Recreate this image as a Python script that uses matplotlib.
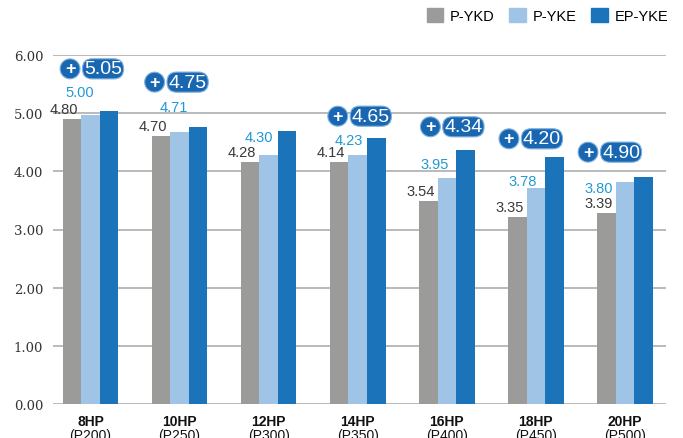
import numpy as np
import matplotlib.pyplot as plt
from matplotlib.patches import Patch

# categories
models = ['8HP', '10HP', '12HP', '14HP', '16HP', '18HP', '20HP']
codes = ['(P200)', '(P250)', '(P300)', '(P350)', '(P400)', '(P450)', '(P500)']

# bar heights as drawn
ykd = [4.90, 4.61, 4.16, 4.16, 3.49, 3.21, 3.28]
yke = [4.97, 4.68, 4.28, 4.28, 3.89, 3.71, 3.82]
epyke = [5.04, 4.76, 4.69, 4.57, 4.37, 4.25, 3.90]

# printed value labels
ykd_lbl = ['4.80', '4.70', '4.28', '4.14', '3.54', '3.35', '3.39']
yke_lbl = ['5.00', '4.71', '4.30', '4.23', '3.95', '3.78', '3.80']
ep_lbl = ['5.05', '4.75', '', '4.65', '4.34', '4.20', '4.90']

series_names = ['P-YKD', 'P-YKE', 'EP-YKE']
colors = ['#9b9b99', '#9fc4e6', '#1b74ba']
badge_col = '#1967b1'

# label placement (pixel offsets from bar tops)
yke_dx = [-10.5, -6, -9.5, -9, -12.5, -13, -26]
yke_dy = [23, 25, 18, 15, 14, 7, -6]
ep_dx = [-6, -10.5, 0, -5.5, -2, -12.5, -22.5]
ep_dy = [42, 45, 0, 22, 23, 18, 25]

fig = plt.figure(figsize=(6.83, 4.39), dpi=100)
ax = fig.add_axes([53 / 683, 34 / 439, 613 / 683, 349 / 439])

x = np.arange(len(models))
w = 0.208
ax.bar(x - w, ykd, w, color=colors[0], zorder=3)
ax.bar(x, yke, w, color=colors[1], zorder=3)
ax.bar(x + w, epyke, w, color=colors[2], zorder=3)

ax.set_xlim(-0.421, 6.46)
ax.set_ylim(0, 6)
ax.set_yticks(range(7))
ax.set_yticklabels([f'{v:.2f}' for v in range(7)])
ax.tick_params(axis='y', length=0, pad=7, labelsize=9.5, labelcolor='#333333',
               labelfontfamily='DejaVu Serif')
ax.set_xticks([])
for s in ax.spines.values():
    s.set_visible(False)
ax.grid(axis='y', color='#b4b4b4', lw=1.3, zorder=0)
ax.set_axisbelow(True)

sans = 'Liberation Sans'
for i in range(len(models)):
    ax.annotate(models[i], xy=(x[i], 0), xycoords=('data', 'axes fraction'),
                xytext=(0, -17), textcoords='offset pixels', ha='center', va='center',
                fontsize=10, fontweight='bold', family=sans, color='#111111')
    ax.annotate(codes[i], xy=(x[i], 0), xycoords=('data', 'axes fraction'),
                xytext=(0, -31), textcoords='offset pixels', ha='center', va='center',
                fontsize=10, family=sans, color='#111111')

    ax.annotate(ykd_lbl[i], xy=(x[i] - w, ykd[i]), xytext=(-8, 10),
                textcoords='offset pixels', ha='center', va='center',
                fontsize=10.5, family=sans, color='#3a3a3a', zorder=5)
    ax.annotate(yke_lbl[i], xy=(x[i], yke[i]), xytext=(yke_dx[i], yke_dy[i]),
                textcoords='offset pixels', ha='center', va='center',
                fontsize=10.5, family=sans, color='#2399d4', zorder=5)
    if ep_lbl[i]:
        ax.annotate(ep_lbl[i], xy=(x[i] + w, epyke[i]), xytext=(ep_dx[i], ep_dy[i]),
                    textcoords='offset pixels', ha='center', va='center',
                    fontsize=14, family=sans, color='white', zorder=6,
                    bbox=dict(boxstyle='round,pad=0.08,rounding_size=0.5',
                              fc=badge_col, ec='#7fb0de', lw=0.8))
        ax.annotate('+', xy=(x[i] + w, epyke[i]), xytext=(ep_dx[i] - 33, ep_dy[i]),
                    textcoords='offset pixels', ha='center', va='center',
                    fontsize=13, fontweight='bold', family=sans, color='white', zorder=6,
                    bbox=dict(boxstyle='circle,pad=0.08', fc=badge_col, ec='#7fb0de', lw=0.8))

handles = [Patch(color=c) for c in colors]
fig.legend(handles, series_names, loc='upper right', bbox_to_anchor=(668 / 683, 1 - 9 / 439),
           ncol=3, frameon=False, prop={'family': sans, 'size': 10.5},
           handlelength=1.15, handleheight=1.15, handletextpad=0.45, columnspacing=1.0,
           borderpad=0, borderaxespad=0)

fig.savefig('out.png', dpi=100)
